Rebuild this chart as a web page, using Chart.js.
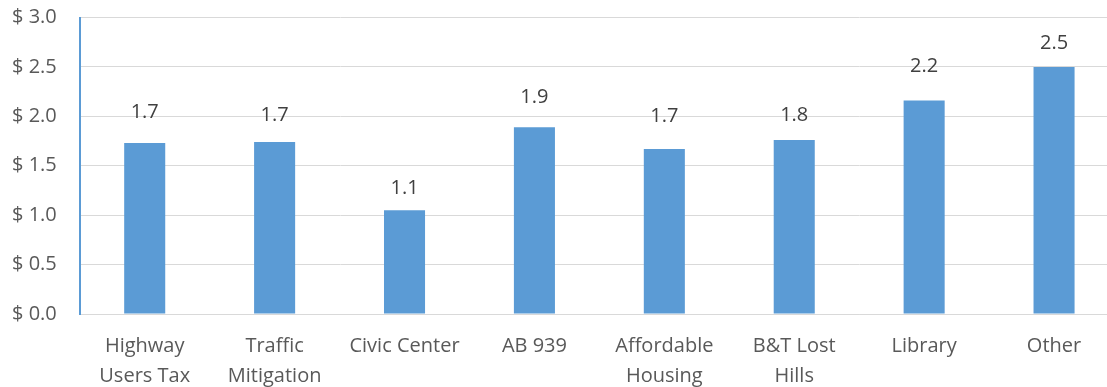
<!DOCTYPE html>
<html>
<head>
<meta charset="utf-8">
<script src="https://cdn.jsdelivr.net/npm/chart.js@4/dist/chart.umd.min.js"></script>
<style>
    html, body { margin: 0; padding: 0; background: #fff; overflow: hidden; }
    #wrap { width: 1130px; height: 391px; }
</style>
</head>
<body>
<div id="wrap"><canvas id="myChart"></canvas></div>
<script>
// chart data
const categories = [
    ["Highway", "Users Tax"],
    ["Traffic", "Mitigation"],
    "Civic Center",
    "AB 939",
    ["Affordable", "Housing"],
    ["B&T Lost", "Hills"],
    "Library",
    "Other",
];
const amounts = [1.73, 1.74, 1.05, 1.89, 1.67, 1.76, 2.16, 2.5];
const yTicks = [0, 0.5, 1.0, 1.5, 2.0, 2.5, 3.0];

// how far each value label sits above its bar (px), as placed in the original
const labelLift = [31, 27, 22, 30, 33, 25, 34, 24];

const FONT = "'Open Sans', sans-serif";

// draws the value labels above the bars
const valueLabels = {
    id: "valueLabels",
    afterDatasetsDraw(chart) {
        const ctx = chart.ctx;
        const meta = chart.getDatasetMeta(0);
        ctx.save();
        ctx.font = "20px " + FONT;
        ctx.fillStyle = "#404040";
        ctx.textAlign = "center";
        ctx.textBaseline = "middle";
        meta.data.forEach((bar, i) => {
            const v = chart.data.datasets[0].data[i];
            ctx.fillText(v.toFixed(1), bar.x, bar.y - labelLift[i]);
        });
        ctx.restore();
    },
};

const ctx = document.getElementById("myChart").getContext("2d");
new Chart(ctx, {
    type: "bar",
    data: {
        labels: categories,
        datasets: [
            {
                data: amounts,
                backgroundColor: "#5B9BD5",
                barPercentage: 0.316,
                categoryPercentage: 1,
            },
        ],
    },
    options: {
        responsive: true,
        maintainAspectRatio: false,
        animation: false,
        layout: { padding: { left: 12, right: 11, top: 17.5, bottom: 0 } },
        plugins: {
            legend: { display: false },
            tooltip: { enabled: false },
        },
        scales: {
            x: {
                // invisible tick marks give the gap under the axis
                grid: {
                    drawOnChartArea: false,
                    drawTicks: true,
                    tickLength: 17,
                    tickColor: "rgba(0,0,0,0)",
                },
                border: { color: "#D9D9D9", width: 1 },
                ticks: {
                    color: "#595959",
                    font: { family: FONT, size: 20, lineHeight: 1.5 },
                    padding: 0,
                    maxRotation: 0,
                    autoSkip: false,
                },
            },
            y: {
                min: 0,
                max: 3,
                afterBuildTicks: (axis) => {
                    axis.ticks = yTicks.map((v) => ({ value: v }));
                },
                grid: {
                    color: "#D9D9D9",
                    lineWidth: 1,
                    drawTicks: true,
                    tickLength: 23,
                    tickColor: "rgba(0,0,0,0)",
                },
                border: { color: "#5B9BD5", width: 2 },
                ticks: {
                    color: "#595959",
                    font: { family: FONT, size: 20 },
                    padding: 0,
                    callback: (v) => "$ " + Number(v).toFixed(1),
                },
            },
        },
    },
    plugins: [valueLabels],
});
</script>
</body>
</html>
